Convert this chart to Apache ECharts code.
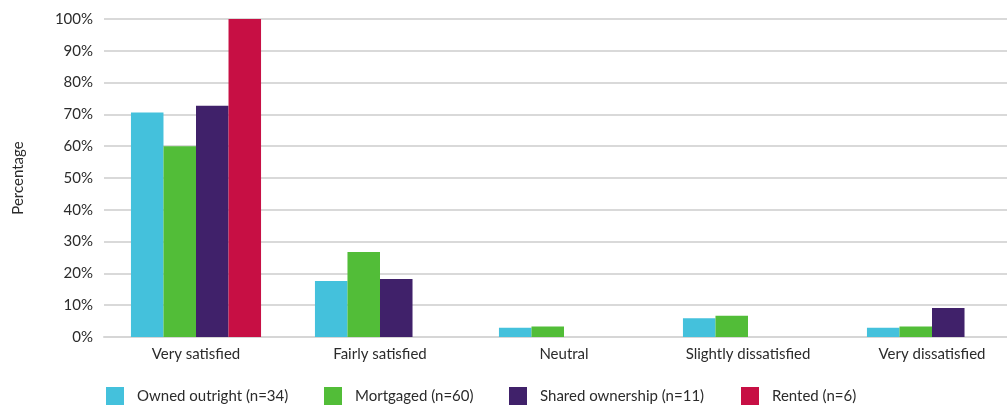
<!DOCTYPE html>
<html>
<head>
<meta charset="utf-8">
<style>
  html, body { margin: 0; padding: 0; background: #fff; }
  #chart { width: 1007px; height: 405px; }
</style>
<script src="https://cdn.jsdelivr.net/npm/echarts@6/dist/echarts.min.js"></script>
</head>
<body>
<div id="chart"></div>
<script>
// Satisfaction by tenure type (share of respondents)
const categories = ['Very satisfied', 'Fairly satisfied', 'Neutral', 'Slightly dissatisfied', 'Very dissatisfied'];
const seriesNames = ['Owned outright (n=34)', 'Mortgaged (n=60)', 'Shared ownership (n=11)', 'Rented (n=6)'];
const ownedOutright = [70.6, 17.6, 2.9, 5.9, 2.9];
const mortgaged = [60.0, 26.7, 3.3, 6.7, 3.3];
const sharedOwnership = [72.7, 18.2, 0, 0, 9.1];
const rented = [100, 0, 0, 0, 0];
const yTicks = [0, 10, 20, 30, 40, 50, 60, 70, 80, 90, 100];

const colors = ['#44C1DC', '#52BD38', '#40216A', '#C70F44'];
const values = [ownedOutright, mortgaged, sharedOwnership, rented];
const legendLefts = [106, 324, 509, 741];
const font = 'Lato, "Open Sans", sans-serif';
const textColor = '#2b2b2b';
const fontSize = 15;

const chart = echarts.init(document.getElementById('chart'), null, { renderer: 'canvas' });

chart.setOption({
  animation: false,
  textStyle: { fontFamily: font },
  grid: { left: 104, top: 19, width: 920, bottom: 68, containLabel: false, outerBoundsMode: 'none' },
  legend: seriesNames.map((name, i) => ({
    data: [name],
    left: legendLefts[i],
    top: 387,
    itemWidth: 18,
    itemHeight: 18,
    icon: 'rect',
    padding: 0,
    textStyle: { fontFamily: font, fontSize: fontSize, color: textColor, padding: [0, 0, 0, 8] }
  })),
  xAxis: {
    type: 'category',
    data: categories,
    axisLine: { lineStyle: { color: '#d6d6d6', width: 2 } },
    axisTick: { alignWithLabel: true, length: 9, lineStyle: { color: '#cfcfcf', width: 1 } },
    axisLabel: { fontFamily: font, fontSize: fontSize, color: textColor, margin: 10 }
  },
  yAxis: {
    type: 'value',
    min: yTicks[0],
    max: yTicks[yTicks.length - 1],
    interval: yTicks[1] - yTicks[0],
    name: 'Percentage',
    nameLocation: 'middle',
    nameGap: 78,
    nameTextStyle: { fontFamily: font, fontSize: fontSize, color: textColor },
    axisLine: { show: false },
    axisTick: { show: false },
    axisLabel: { fontFamily: font, fontSize: fontSize, color: textColor, margin: 11, formatter: v => v + '%' },
    splitLine: { lineStyle: { color: '#d9d9d9', width: 2 } }
  },
  series: seriesNames.map((name, i) => ({
    name,
    type: 'bar',
    data: values[i],
    barGap: 0,
    barCategoryGap: '29.3%',
    itemStyle: { color: colors[i] }
  }))
});
</script>
</body>
</html>
